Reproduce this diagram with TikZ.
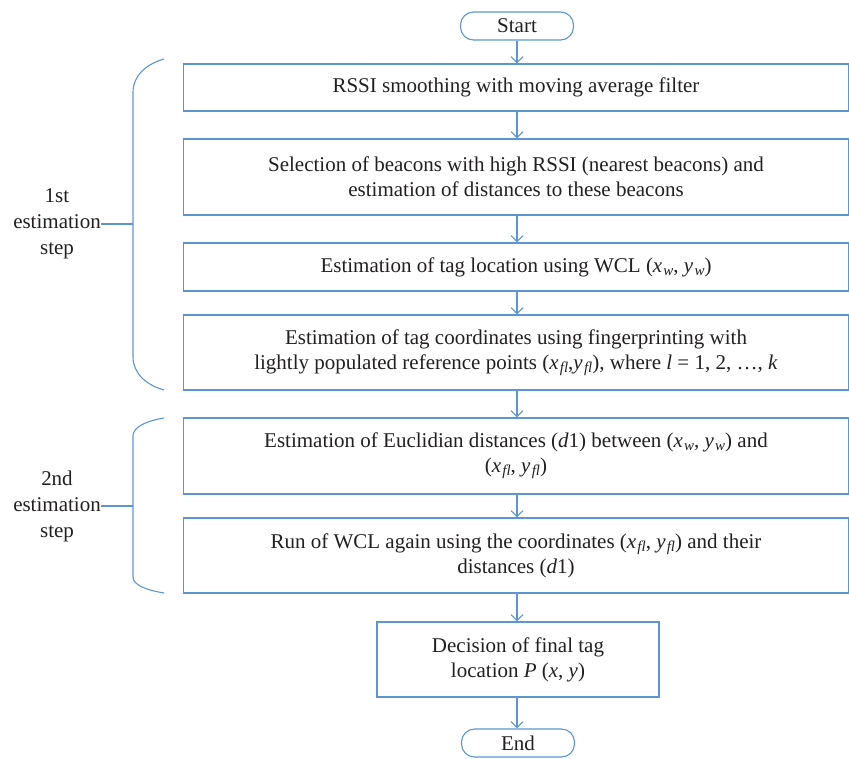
\documentclass[tikz,border=0pt]{standalone}
\usepackage{fontspec}
\setmainfont{Liberation Serif}
\usetikzlibrary{arrows.meta}
\definecolor{lineblue}{RGB}{91,150,208}
\definecolor{txt}{RGB}{35,31,32}
\newcommand{\vi}[1]{\textit{#1}}
\newcommand{\vs}[2]{\textit{#1}\raisebox{-0.35ex}{\fontsize{15}{15}\selectfont\kern0.08em\textit{#2}}}
\begin{document}
\begin{tikzpicture}[x=1pt,y=-1pt,
  font=\fontsize{21}{25}\selectfont, text=txt,
  box/.style={draw=lineblue, line width=1.1pt, align=center, inner sep=0pt, minimum width=665pt},
  term/.style={draw=lineblue, line width=1.1pt, rounded corners=13pt, minimum width=113pt, minimum height=28pt, inner sep=0pt},
  flow/.style={draw=lineblue, line width=1.1pt, -{Straight Barb[length=6pt,width=12pt,line width=1.1pt]}},
  brace/.style={draw=lineblue, line width=1.1pt},
  lab/.style={align=center, inner sep=0pt, font=\fontsize{21}{26}\selectfont}]
\useasboundingbox (0,0) rectangle (849,758);

\node[term] (start) at (517,26) {Start};
\node[box, minimum height=47pt] (b1) at (516,87.5) {RSSI smoothing with moving average filter};
\node[box, minimum height=76pt] (b2) at (516,177) {Selection of beacons with high RSSI (nearest beacons) and\\estimation of distances to these beacons};
\node[box, minimum height=48pt] (b3) at (516,267) {Estimation of tag location using WCL (\vs{x}{w}, \vs{y}{w})};
\node[box, minimum height=75pt] (b4) at (516,352.5) {Estimation of tag coordinates using fingerprinting with\\lightly populated reference points (\vs{x}{fl},\vs{y}{fl}), where \vi{l} = 1, 2, \dots, \vi{k}};
\node[box, minimum height=76pt] (b5) at (516,456) {Estimation of Euclidian distances (\vi{d}1) between (\vs{x}{w}, \vs{y}{w}) and\\(\vs{x}{fl}, \vs{y}{fl})};
\node[box, minimum height=75pt] (b6) at (516,555.5) {Run of WCL again using the coordinates (\vs{x}{fl}, \vs{y}{fl}) and their\\distances (\vi{d}1)};
\node[box, minimum width=282pt, minimum height=75pt] (b7) at (518,659.5) {Decision of final tag\\location \vi{P} (\vi{x}, \vi{y})};
\node[term] (end) at (518,743) {End};

\draw[flow] (start.south) -- (start.south |- b1.north);
\draw[flow] (start.south |- b1.south) -- (start.south |- b2.north);
\draw[flow] (start.south |- b2.south) -- (start.south |- b3.north);
\draw[flow] (start.south |- b3.south) -- (start.south |- b4.north);
\draw[flow] (start.south |- b4.south) -- (start.south |- b5.north);
\draw[flow] (start.south |- b5.south) -- (start.south |- b6.north);
\draw[flow] (start.south |- b6.south) -- (b7.north -| start.south);
\draw[flow] (b7.south -| start.south) -- (end.north -| start.south);

% braces
\coordinate (t1) at (164,59);
\coordinate (u1) at (133,92);
\coordinate (m1) at (133,224);
\coordinate (v1) at (133,357);
\coordinate (w1) at (164,390);
\draw[brace] (t1) .. controls (146,64) and (133,76) .. (u1) -- (v1) .. controls (133,373) and (146,385) .. (w1);
\node[lab] (l1) at (57,224) {1st\\estimation\\step};
\draw[brace] (l1.east) -- (m1);

\coordinate (t2) at (164,418);
\coordinate (u2) at (133,436);
\coordinate (m2) at (133,506);
\coordinate (v2) at (133,577);
\coordinate (w2) at (164,593);
\draw[brace] (t2) .. controls (146,421) and (133,427) .. (u2) -- (v2) .. controls (133,585) and (146,590) .. (w2);
\node[lab] (l2) at (57,506) {2nd\\estimation\\step};
\draw[brace] (l2.east) -- (m2);
\end{tikzpicture}
\end{document}
